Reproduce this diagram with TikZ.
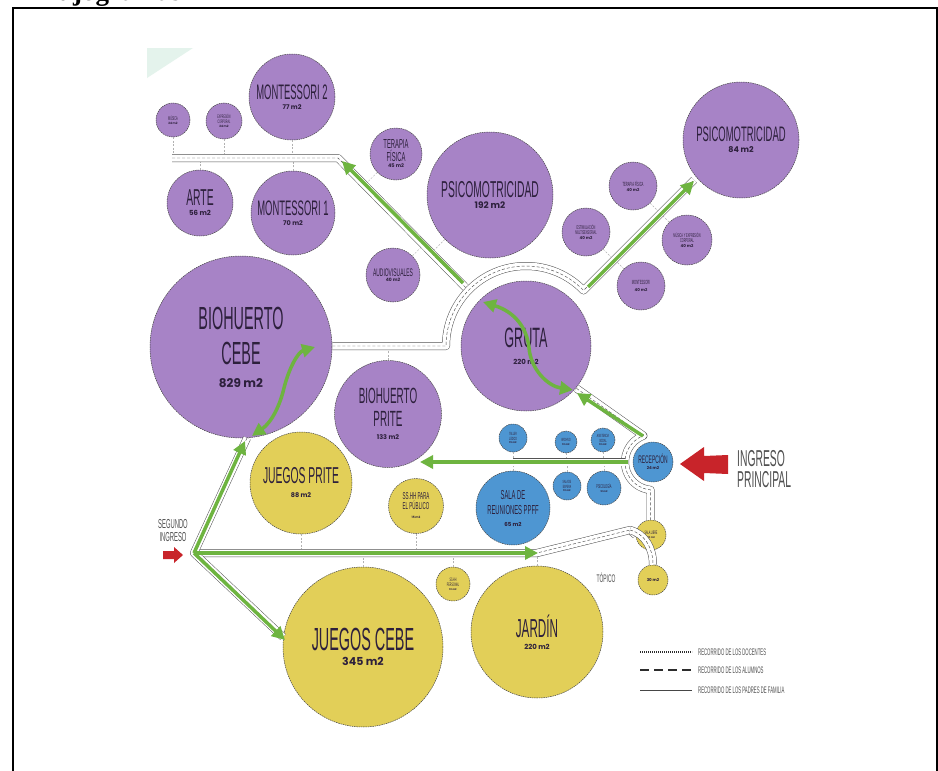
\documentclass[tikz,border=0pt]{standalone}
\usepackage{fontspec}
\setmainfont{Liberation Sans}
\newfontfamily\cnd[FakeStretch=0.45]{Liberation Sans}
\newfontfamily\geo{Poppins}
\newfontfamily\serifb{Liberation Serif}
\usetikzlibrary{arrows.meta,calc}
\definecolor{purp}{RGB}{167,131,198}
\definecolor{yell}{RGB}{226,207,88}
\definecolor{bluec}{RGB}{78,150,210}
\definecolor{grn}{RGB}{110,180,64}
\definecolor{redc}{RGB}{200,36,42}
\definecolor{txt}{RGB}{45,32,60}
\definecolor{mint}{RGB}{228,243,236}
\definecolor{lbl}{RGB}{80,80,80}
\newcommand\NameF[1]{\cnd\fontsize{#1}{#1}\selectfont}
\newcommand\AreaT[2]{{\geo\bfseries\fontsize{#1}{#1}\selectfont #2}}
\newcommand\Corr[1]{\draw[corr] #1; \draw[corrmid] #1;}
\begin{document}
\begin{tikzpicture}[x=1pt,y=-1pt,
  room/.style={circle, inner sep=0pt, align=center, draw=gray!55!black, line width=0.5pt, dash pattern=on 1.5pt off 0.8pt, text=txt},
  pur/.style={room, fill=purp},
  yel/.style={room, fill=yell},
  blu/.style={room, fill=bluec},
  corr/.style={draw=gray!65!black, line width=0.5pt, double=white, double distance=7pt, line join=round},
  corrmid/.style={draw=gray!60!black, line width=0.45pt, dash pattern=on 3pt off 2pt},
  conn/.style={draw=gray!60, line width=0.45pt, dash pattern=on 2pt off 1.5pt},
  garrow/.style={draw=grn, line width=3.5pt, -{Triangle[length=13pt,width=13pt]}},
  gboth/.style={draw=grn, line width=3.5pt, arrows={Triangle[length=13pt,width=13pt]-Triangle[length=13pt,width=13pt]}},
  lab/.style={text=lbl, inner sep=0pt}
]
\useasboundingbox (0,0) rectangle (938,771);
\fill[white] (0,0) rectangle (938,771);
\node[anchor=base west, font=\serifb\bfseries\fontsize{27}{27}\selectfont, inner sep=0pt] (ttl) at (34,1) {Flujogramas};
\draw[line width=2.2pt] (13,771) -- (13,8) -- (938,8);
\draw[line width=2pt] (937,8) -- (937,771);
\fill[mint] (147,48) -- (193,48) -- (147,78) -- cycle;

% ---------- purple rooms
\node[pur, minimum size=34, font=\NameF{5.5}] (musica) at (173,120) {MÚSICA\\[-1pt]\AreaT{3}{24 m2}};
\node[pur, minimum size=36, font=\NameF{5}] (expcorp) at (224,121) {EXPRESIÓN\\CORPORAL\\[-1pt]\AreaT{3}{24 m2}};
\node[pur, minimum size=86, font=\NameF{21}] (mont2) at (292,97) {MONTESSORI 2\\[-11pt]\AreaT{6.5}{77 m2}};
\node[pur, minimum size=66, font=\NameF{23}] (arte) at (200,203) {ARTE\\[-13pt]\AreaT{7}{56 m2}};
\node[pur, minimum size=84, font=\NameF{21}] (mont1) at (293,213) {MONTESSORI 1\\[-11pt]\AreaT{6.5}{70 m2}};
\node[pur, minimum size=52, font=\NameF{13}] (terfis) at (396,154) {TERAPIA\\FÍSICA\\[-7pt]\AreaT{5}{45 m2}};
\node[pur, minimum size=126, font=\NameF{23}] (psico192) at (490,195) {PSICOMOTRICIDAD\\[-12pt]\AreaT{9}{192 m2}};
\node[pur, minimum size=54, font=\NameF{11}] (audio) at (393,275) {AUDIOVISUALES\\[-6pt]\AreaT{4.5}{40 m2}};
\node[pur, minimum size=116, font=\NameF{21}] (psico84) at (741,140) {PSICOMOTRICIDAD\\[-10pt]\AreaT{8}{84 m2}};
\node[pur, minimum size=48, font=\NameF{6}] (terfis2) at (633,186) {TERAPIA FÍSICA\\[-1pt]\AreaT{4}{40 m2}};
\node[pur, minimum size=48, font=\NameF{5.5}] (estim) at (586,232) {ESTIMULACIÓN\\MULTISENSORIAL\\[-1pt]\AreaT{4}{40 m2}};
\node[pur, minimum size=50, font=\NameF{5.5}] (musexp) at (687,240) {MÚSICA Y EXPRESIÓN\\CORPORAL\\[-1pt]\AreaT{4}{40 m2}};
\node[pur, minimum size=48, font=\NameF{6}] (montsm) at (641,286) {MONTESSORI\\[1pt]\AreaT{4}{40 m2}};
\node[pur, minimum size=182, font=\NameF{32}] (biocebe) at (241,347) {BIOHUERTO\\[3pt]CEBE\\[-9pt]\AreaT{12}{829 m2}};
\node[pur, minimum size=107, font=\NameF{22}] (bioprite) at (388,414) {BIOHUERTO\\[1pt]PRITE\\[-9pt]\AreaT{6.5}{133 m2}};
\node[pur, minimum size=130, font=\NameF{28}] (gruta) at (526,346) {GRUTA\\[-11pt]\AreaT{7}{220 m2}};

% ---------- blue rooms
\node[blu, minimum size=28, font=\NameF{4.5}] (taller) at (513,438) {TALLER\\LÚDICO\\[-1pt]\AreaT{2.5}{15 m2}};
\node[blu, minimum size=22, font=\NameF{4.5}] (archivo) at (566,442) {ARCHIVO\\[-1pt]\AreaT{2.5}{10 m2}};
\node[blu, minimum size=24, font=\NameF{4.5}] (asist) at (603,440) {ASISTENCIA\\SOCIAL\\[-1pt]\AreaT{2.5}{10 m2}};
\node[blu, minimum size=40, font=\NameF{11}] (recep) at (653,462) {RECEPCIÓN\\[-5pt]\AreaT{4}{24 m2}};
\node[blu, minimum size=74, font=\NameF{13}] (reun) at (513,508) {SALA DE\\[2pt]REUNIONES PPFF\\[-1pt]\AreaT{5.5}{65 m2}};
\node[blu, minimum size=28, font=\NameF{4.5}] (espera) at (567,486) {SALA DE\\ESPERA\\[-1pt]\AreaT{2.5}{10 m2}};
\node[blu, minimum size=34, font=\NameF{5.5}] (psicol) at (604,488) {PSICOLOGÍA\\[-1pt]\AreaT{2.5}{12 m2}};

% ---------- yellow rooms
\node[yel, minimum size=102, font=\NameF{23}] (jprite) at (301,483) {JUEGOS PRITE\\[-9pt]\AreaT{6.5}{88 m2}};
\node[yel, minimum size=55, font=\NameF{10}] (sshhp) at (416,506) {SS.HH PARA\\EL PÚBLICO\\[-1pt]\AreaT{3}{15 m2}};
\node[yel, minimum size=34, font=\NameF{5}] (sshhper) at (453,584) {SS.HH\\PERSONAL\\[-1pt]\AreaT{2.5}{10 m2}};
\node[yel, minimum size=160, font=\NameF{32}] (jcebe) at (363,647) {JUEGOS CEBE\\[-17pt]\AreaT{11}{345 m2}};
\node[yel, minimum size=132, font=\NameF{26}] (jardin) at (537,632) {JARDÍN\\[-14pt]\AreaT{7}{220 m2}};
\node[yel, minimum size=30, font=\NameF{5}] (salalib) at (651,535) {SALA LIBRE\\[-1pt]\AreaT{2.5}{20 m2}};
\node[yel, minimum size=30] (topico) at (653,580) {\AreaT{4}{30 m2}};

% ---------- corridor coordinates
\coordinate (c1) at (172,158);
\coordinate (c2) at (338,158);
\coordinate (aTL) at ($(gruta.center)+(224:80)$);
\coordinate (aL) at ($(gruta.center)+(-80,0)$);
\coordinate (aTR) at ($(gruta.center)+(-44:80)$);
\coordinate (p84) at (694,180);
\coordinate (g2) at ($(gruta.center)+(40:66)$);
\coordinate (rT) at ($(recep.center)+(-110:28)$);
\coordinate (rL) at ($(recep.center)+(-28,0)$);
\coordinate (S) at (194,553);
\coordinate (B1) at (537,553);
\coordinate (J) at (630,530);
\coordinate (T1) at (247,438);
\coordinate (T2) at (283,637);

% ---------- connectors
\draw[conn] (musica) -- (musica |- c1);
\draw[conn] (expcorp) -- (expcorp |- c1);
\draw[conn] (mont2) -- (mont2 |- c1);
\draw[conn] (arte) -- (arte |- c1);
\draw[conn] (mont1) -- (mont1 |- c1);
\draw[conn] (terfis) -- ($(c2)!(terfis)!(aTL)$);
\draw[conn] (psico192) -- ($(c2)!(psico192)!(aTL)$);
\draw[conn] (audio) -- ($(c2)!(audio)!(aTL)$);
\draw[conn] (terfis2) -- ($(aTR)!(terfis2)!(p84)$);
\draw[conn] (musexp) -- ($(aTR)!(musexp)!(p84)$);
\draw[conn] (estim) -- ($(aTR)!(estim)!(p84)$);
\draw[conn] (montsm) -- ($(aTR)!(montsm)!(p84)$);
\draw[conn] (bioprite) -- (bioprite |- aL);
\draw[conn] (taller) -- (taller |- rL);
\draw[conn] (archivo) -- (archivo |- rL);
\draw[conn] (asist) -- (asist |- rL);
\draw[conn] (reun) -- (reun |- rL);
\draw[conn] (espera) -- (espera |- rL);
\draw[conn] (psicol) -- (psicol |- rL);
\draw[conn] (jprite) -- (jprite |- S);
\draw[conn] (sshhp) -- (sshhp |- S);
\draw[conn] (jcebe) -- (jcebe |- S);
\draw[conn] (sshhper) -- (sshhper |- S);
\draw[conn] (jardin) -- (jardin |- S);

% ---------- corridors
\Corr{(c1) -- (c2) -- (aTL)}
\Corr{(biocebe.east |- aL) -- (aL) arc[start angle=180, end angle=44, radius=80pt] -- (p84)}
\Corr{(g2) -- (rT) arc[start angle=110, end angle=265, radius=28pt] -- ++(0,30)}
\Corr{(rL) -- (taller |- rL)}
\Corr{(S) -- (B1) -- (J) -- (salalib.west)}
\Corr{(J) .. controls (645,534) and (653,548) .. (topico.north)}
\Corr{(T1) -- (S) -- (T2)}

% ---------- green arrows
\coordinate (ga1s) at (463,283); \coordinate (ga1e) at (342,161);
\coordinate (ga2s) at (588,287); \coordinate (ga2e) at (694,181);
\coordinate (gc1) at (483,302); \coordinate (gc2) at (573,390);
\coordinate (ga4s) at (643,436); \coordinate (ga4e) at (577,393);
\coordinate (ga5s) at (628,462); \coordinate (ga5e) at (420,462);
\coordinate (bc1) at (252,436); \coordinate (bc2) at (315,347);
\coordinate (ga7e) at (245,441);
\coordinate (ga8e) at (538,553);
\coordinate (ga9e) at (285,640);
\draw[garrow] (ga1s) -- (ga1e);
\draw[garrow] (ga2s) -- (ga2e);
\draw[gboth] (gc1) .. controls (515,312) and (527,328) .. (529,348) .. controls (531,370) and (548,386) .. (gc2);
\draw[garrow] (ga4s) -- (ga4e);
\draw[garrow] (ga5s) -- (ga5e);
\draw[gboth] (bc1) .. controls (272,422) and (280,405) .. (284,388) .. controls (289,368) and (298,352) .. (bc2);
\draw[garrow] (S) -- (ga7e);
\draw[garrow] (S) -- (ga8e);
\draw[garrow] (S) -- (ga9e);

% ---------- entrances
\fill[redc] (680,464) -- (704,447) -- (704,456) -- (728,455) -- (728,474) -- (704,473) -- (704,481) -- cycle;
\node[lab, anchor=west, align=left, font=\cnd\fontsize{23}{21}\selectfont] (ingp) at (737,469) {INGRESO\\PRINCIPAL};
\fill[redc] (163,551) -- (174,551) -- (174,547) -- (183,555) -- (174,563) -- (174,559) -- (163,559) -- cycle;
\node[lab, align=center, font=\NameF{13}] (ings) at (173,531) {SEGUNDO\\INGRESO};
\node[lab, font=\NameF{11}] (toplab) at (606,578) {TÓPICO};

% ---------- legend
\coordinate (l1a) at (640,652); \coordinate (l1b) at (692,652);
\coordinate (l2a) at (640,670); \coordinate (l2b) at (692,670);
\coordinate (l3a) at (640,690); \coordinate (l3b) at (692,690);
\draw[gray!35!black, line width=1.6pt, dash pattern=on 0.9pt off 1.1pt] (l1a) -- (l1b);
\draw[gray!35!black, line width=1.2pt, dash pattern=on 9pt off 5pt] (l2a) -- (l2b);
\draw[gray!55!black, line width=0.6pt] (l3a) -- (l3b);
\node[lab, anchor=west, font=\NameF{9.5}] (lt1) at (698,652) {RECORRIDO DE LOS DOCENTES};
\node[lab, anchor=west, font=\NameF{9.5}] (lt2) at (698,670) {RECORRIDO DE LOS ALUMNOS};
\node[lab, anchor=west, font=\NameF{9.5}] (lt3) at (698,690) {RECORRIDO DE LOS PADRES DE FAMILIA};
\end{tikzpicture}
\end{document}
